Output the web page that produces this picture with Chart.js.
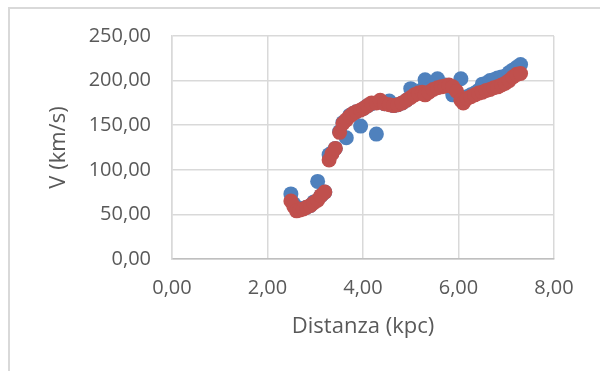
<!DOCTYPE html>
<html>
<head>
<meta charset="utf-8">
<script src="https://cdn.jsdelivr.net/npm/chart.js@4"></script>
<style>
  body { margin: 0; background: #fff; }
  #wrap { position: relative; width: 600px; height: 371px; overflow: hidden; }
  #frame { position: absolute; left: 8px; top: 7px; width: 640px; height: 420px; border: 2px solid #d9d9d9; box-sizing: border-box; }
  #chart { position: absolute; left: 0; top: 0; }
</style>
</head>
<body>
<div id="wrap">
  <div id="frame"></div>
  <canvas id="chart" width="600" height="371"></canvas>
</div>
<script>
let distanze = [2.49, 2.55, 2.61, 2.68, 2.75, 2.82, 2.90, 2.97, 3.05, 3.12, 3.20, 3.29, 3.35, 3.42, 3.51, 3.58, 3.65, 3.72, 3.79, 3.86,
                3.95, 4.02, 4.10, 4.18, 4.28, 4.36, 4.45, 4.55, 4.64, 4.73, 4.82, 4.91, 5.00, 5.08, 5.16, 5.24, 5.30, 5.38, 5.47, 5.56,
                5.64, 5.72, 5.80, 5.88, 5.96, 6.05, 6.10, 6.18, 6.26, 6.34, 6.42, 6.50, 6.58, 6.66, 6.74, 6.82, 6.90, 6.98, 7.06, 7.14,
                7.22, 7.30];
let vOsservata = [73, 62, 56, 56, 57, 58, 60, 64, 87, 71, 75, 117, 119, 124, 143, 153, 136, 161, 163, 165,
                  149, 169, 172, 174, 140, 177, 174, 177, 172, 173, 175, 178, 191, 185, 187, 190, 201, 190, 193, 202,
                  194, 195, 193, 184, 186, 202, 180, 182, 184, 186, 189, 196, 197, 200, 201, 203, 204, 205, 209, 212,
                  215, 218];
let vModello = [65, 59, 54, 55, 56, 58, 60, 63, 66, 71, 75, 111, 118, 124, 142, 152, 156, 160, 163, 165,
                167, 169, 172, 175, 175, 178, 174, 173, 172, 173, 175, 178, 181, 184, 186, 187, 184, 187, 190, 192,
                193, 194, 195, 193, 188, 178, 175, 180, 182, 184, 186, 187, 189, 190, 192, 193, 195, 197, 200, 204,
                207, 208];

let toPoints = (ys) => distanze.map((x, i) => ({ x: x, y: ys[i] }));
let virgola = (v) => Number(v).toFixed(2).replace('.', ',');

let ctx = document.getElementById('chart').getContext('2d');

let chart = new Chart(ctx, {
    type: 'scatter',
    data: {
        datasets: [{
            label: 'Osservata',
            data: toPoints(vOsservata),
            backgroundColor: '#4F81BD',
            borderWidth: 0,
            pointRadius: 7.5,
            order: 1
        }, {
            label: 'Modello',
            data: toPoints(vModello),
            backgroundColor: '#C0504D',
            borderWidth: 0,
            pointRadius: 7.5,
            order: 0
        }]
    },
    options: {
        responsive: false,
        animation: false,
        layout: { padding: { left: 0, right: 46, top: 36, bottom: 0 } },
        plugins: {
            legend: { display: false },
            tooltip: { enabled: false }
        },
        scales: {
            x: {
                min: 0,
                max: 8,
                afterFit: (s) => { s.height = 112; },
                ticks: {
                    stepSize: 2,
                    padding: 17,
                    color: '#595959',
                    font: { family: 'Open Sans', size: 20 },
                    callback: virgola
                },
                grid: { color: '#d9d9d9', lineWidth: 1.5, drawTicks: false },
                border: { color: '#bfbfbf', width: 1.5 },
                title: {
                    display: true,
                    text: 'Distanza (kpc)',
                    color: '#595959',
                    font: { family: 'Open Sans', size: 22 },
                    padding: { top: 0, bottom: 31 }
                }
            },
            y: {
                min: 0,
                max: 250,
                afterFit: (s) => { s.width = 172; },
                ticks: {
                    stepSize: 50,
                    padding: 21,
                    color: '#595959',
                    font: { family: 'Open Sans', size: 20 },
                    callback: virgola
                },
                grid: { color: '#d9d9d9', lineWidth: 1.5, drawTicks: false },
                border: { color: '#d9d9d9', width: 1.5 },
                title: {
                    display: true,
                    text: 'V (km/s)',
                    color: '#595959',
                    font: { family: 'Open Sans', size: 22 },
                    padding: { top: 46, bottom: 0 }
                }
            }
        }
    }
});
</script>
</body>
</html>
